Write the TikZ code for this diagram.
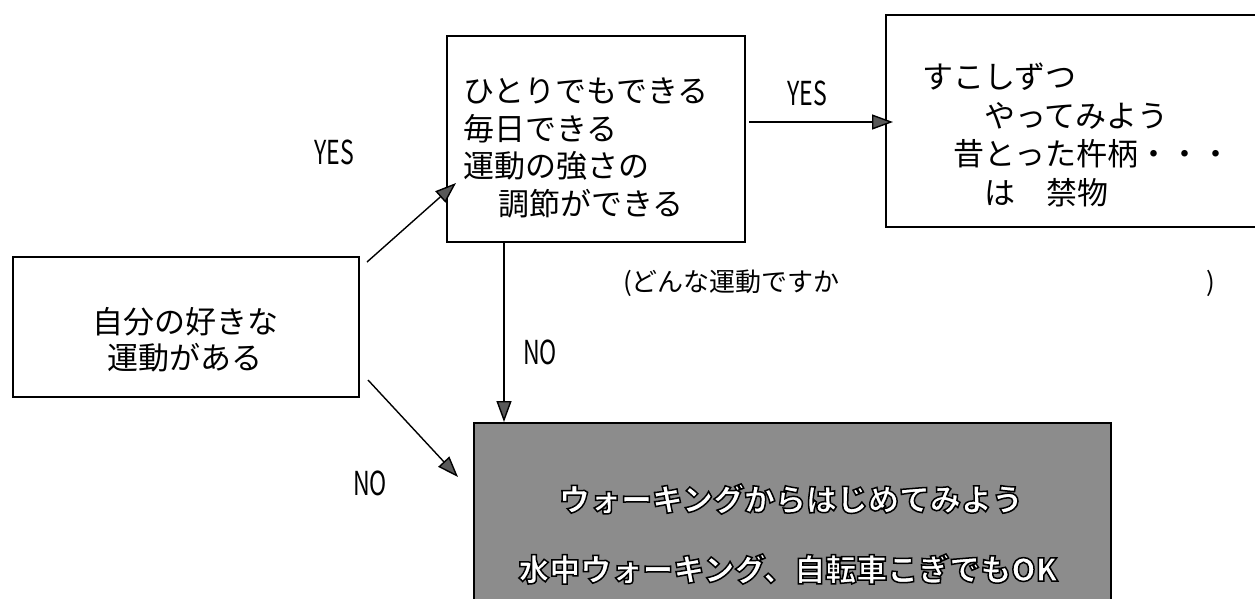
\documentclass[tikz,border=0pt]{standalone}
\usepackage{fontspec}
\setmainfont{Noto Sans CJK JP}
\newfontfamily\narrowfont[FakeStretch=0.7]{Noto Sans CJK JP}
\usetikzlibrary{arrows.meta}
\newcommand{\outlinedtext}[1]{{\bfseries\color{white}\special{pdf:literal 2 Tr 0 G 1.5 w}#1\special{pdf:literal 0 Tr}}}
\begin{document}
\begin{tikzpicture}[x=1pt,y=-1pt,
  box/.style={draw=black,line width=1.8pt,inner sep=0pt,anchor=north west},
  jp/.style={font=\fontsize{31}{37.5}\selectfont,inner sep=0pt,align=left},
  lbl/.style={font=\narrowfont\fontsize{33}{33}\selectfont,inner sep=0pt},
  arr/.style={line width=1.4pt,-{Triangle[length=21pt,width=15pt,fill=black!65]}}]
\useasboundingbox (0,0) rectangle (1255,598);
\clip (0,0) rectangle (1255,598);
% boxes
\node[box,minimum width=346pt,minimum height=140pt] (start) at (12,256) {};
\node[box,minimum width=298pt,minimum height=206pt] (mid) at (446,35) {};
\node[box,minimum width=400pt,minimum height=212pt] (res) at (885,14) {};
\node[box,fill=black!45,minimum width=637pt,minimum height=200pt] (bot) at (473,422) {};
% texts
\node[jp,align=center,font=\fontsize{31}{36}\selectfont] (starttext) at (185,340) {自分の好きな\\運動がある};
\node[jp,anchor=west] (midtext) at (463,148) {ひとりでもできる\\毎日できる\\運動の強さの\\\hspace{35pt}調節ができる};
\node[jp,anchor=west,font=\fontsize{31}{38.5}\selectfont] (restext) at (922,135) {すこしずつ\\\hspace{2em}やってみよう\\\hspace{1em}昔とった杵柄・・・\\\hspace{2em}は　禁物};
\node[jp] (bt1) at (791,499) {\outlinedtext{ウォーキングからはじめてみよう}};
\node[jp] (bt2) at (788,569) {\outlinedtext{水中ウォーキング、自転車こぎでもOK}};
\node[inner sep=0pt,anchor=west,font=\fontsize{26}{30}\selectfont] (q) at (623,283) {(どんな運動ですか};
\node[inner sep=0pt,font=\fontsize{26}{30}\selectfont] (qe) at (1211,283) {)};
% labels
\node[lbl] (yes1) at (334,152) {YES};
\node[lbl] (yes2) at (807,93) {YES};
\node[lbl] (no1) at (540,352) {NO};
\node[lbl] (no2) at (370,483) {NO};
% connectors
\coordinate (a1s) at (367,262);
\coordinate (a1e) at (456,183);
\coordinate (a2s) at (368,380);
\coordinate (a2e) at (458,477);
\coordinate (a3s) at (749,122);
\coordinate (a3e) at (893,122);
\coordinate (a4s) at (504,241);
\draw[arr] (a1s) -- (a1e);
\draw[arr] (a2s) -- (a2e);
\draw[arr] (a3s) -- (a3e);
\draw[arr] (a4s) -- (a4s |- bot.north);
\end{tikzpicture}
\end{document}
